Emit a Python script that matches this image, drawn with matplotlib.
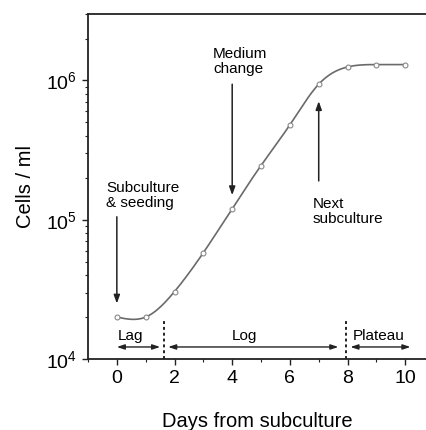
import numpy as np
import matplotlib
matplotlib.use("Agg")
import matplotlib.pyplot as plt

days = [0, 1, 2, 3, 4, 5, 6, 7, 8, 9, 10]
cells = [2.0e4, 2.0e4, 3.05e4, 5.8e4, 1.2e5, 2.45e5, 4.8e5, 9.4e5, 1.25e6, 1.3e6, 1.3e6]
xticks = [0, 2, 4, 6, 8, 10]
phase_bounds = [1.62, 7.95]
phase_labels = ["Lag", "Log", "Plateau"]

plt.rcParams['font.family'] = ['Liberation Sans', 'DejaVu Sans']

def natural_spline(x, y, xs):
    x = np.asarray(x, float); y = np.asarray(y, float)
    n = len(x)
    h = np.diff(x)
    A = np.zeros((n, n)); b = np.zeros(n)
    A[0, 0] = 1; A[-1, -1] = 1
    for i in range(1, n - 1):
        A[i, i - 1] = h[i - 1]
        A[i, i] = 2 * (h[i - 1] + h[i])
        A[i, i + 1] = h[i]
        b[i] = 3 * ((y[i + 1] - y[i]) / h[i] - (y[i] - y[i - 1]) / h[i - 1])
    c = np.linalg.solve(A, b)
    out = np.empty_like(xs)
    for k, xv in enumerate(xs):
        i = min(np.searchsorted(x, xv, side='right') - 1, n - 2)
        i = max(i, 0)
        dx = xv - x[i]
        bb = (y[i + 1] - y[i]) / h[i] - h[i] * (2 * c[i] + c[i + 1]) / 3
        d = (c[i + 1] - c[i]) / (3 * h[i])
        out[k] = y[i] + bb * dx + c[i] * dx ** 2 + d * dx ** 3
    return out

fig = plt.figure(figsize=(4.26, 4.30), dpi=100)
ax = fig.add_axes([88 / 426, 1 - 359 / 430, (426 - 88) / 426, (359 - 14) / 430])

xs = np.linspace(days[0], days[-1], 400)
ys = 10 ** natural_spline(days, np.log10(cells), xs)
ax.plot(xs, ys, color='#6a6a6a', lw=1.2, zorder=2)
ax.plot(days, cells, 'o', ms=3.5, mfc='white', mec='#888888', mew=0.8, zorder=3)

ax.set_yscale('log')
ax.set_xlim(-1, 10.72)
ax.set_ylim(1e4, 3e6)
ax.set_xticks(xticks)
ax.set_xticks(range(-1, 11), minor=True)
ax.tick_params(axis='both', which='major', labelsize=14, length=4, width=1, direction='out', colors='#222222', pad=4)
ax.tick_params(axis='both', which='minor', length=2.5, width=0.8, direction='out', colors='#222222')
ax.tick_params(axis='both', labelcolor='black')
for s in ['left', 'bottom', 'top']:
    ax.spines[s].set_linewidth(1.3)
    ax.spines[s].set_color('#222222')
ax.spines['right'].set_visible(False)

ax.set_xlabel('Days from subculture', fontsize=14.5, labelpad=18)
ax.set_ylabel('Cells / ml', fontsize=14.5, labelpad=8)

arrowprops = dict(arrowstyle='-|>,head_length=0.5,head_width=0.18', color='#222222', lw=1.1, shrinkA=0, shrinkB=0)
# Medium change
ax.text(3.34, 1.37e6, 'Medium\nchange', fontsize=11, ha='left', va='center', linespacing=1.1)
ax.annotate('', xy=(4, 1.5e5), xytext=(4, 9.4e5), arrowprops=arrowprops)
# Subculture & seeding
ax.text(-0.37, 1.5e5, 'Subculture\n& seeding', fontsize=11, ha='left', va='center', linespacing=1.1)
ax.annotate('', xy=(0, 2.5e4), xytext=(0, 1.05e5), arrowprops=arrowprops)
# Next subculture
ax.text(6.78, 1.14e5, 'Next\nsubculture', fontsize=11, ha='left', va='center', linespacing=1.1)
ax.annotate('', xy=(7, 7.1e5), xytext=(7, 1.9e5), arrowprops=arrowprops)

# phase dividers
for xb in phase_bounds:
    ax.plot([xb, xb], [1e4, 1.95e4], ls=(0, (1.5, 1.5)), color='#222222', lw=1.4)

harrow = dict(arrowstyle='<|-|>,head_length=0.45,head_width=0.15', color='#222222', lw=1.0, shrinkA=0, shrinkB=0)
spans = [(0, 1.5), (1.78, 7.68), (8.1, 10.18)]
label_x = [0.47, 4.42, 9.07]
for (a, b), lx, lab in zip(spans, label_x, phase_labels):
    ax.annotate('', xy=(a, 1.22e4), xytext=(b, 1.22e4), arrowprops=harrow)
    ax.text(lx, 1.47e4, lab, fontsize=11, ha='center', va='center')

fig.savefig('out.png', dpi=100)
